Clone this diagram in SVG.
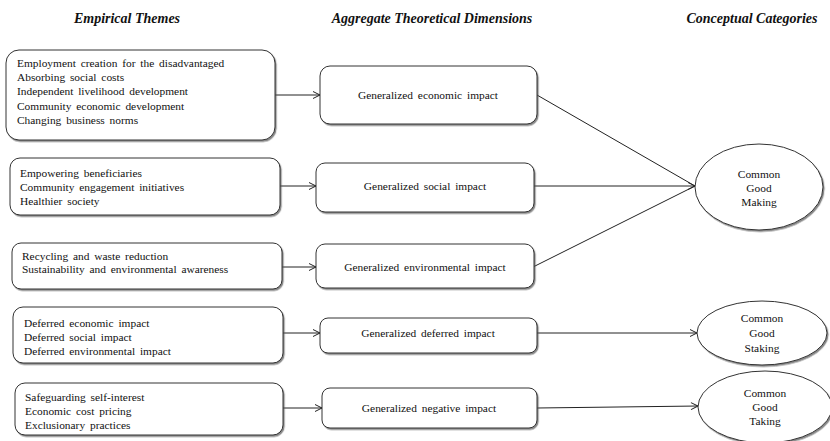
<svg xmlns="http://www.w3.org/2000/svg" width="830" height="441" viewBox="0 0 830 441">
<defs>
<marker id="arr" markerWidth="10" markerHeight="10" refX="8" refY="4" orient="auto" markerUnits="userSpaceOnUse">
<path d="M1,0.5 L8,4 L1,7.5" fill="none" stroke="#222" stroke-width="1"/>
</marker>
<filter id="sh" x="-5%" y="-5%" width="110%" height="120%">
<feDropShadow dx="1.2" dy="1.5" stdDeviation="0.6" flood-color="#555" flood-opacity="0.7"/>
</filter>
</defs>
<style>
.box{fill:#fff;stroke:#333;stroke-width:1;filter:url(#sh)}
.ell{fill:#fff;stroke:#333;stroke-width:1;filter:url(#sh)}
.t{font-size:11.4px;fill:#111;word-spacing:2px}
.c{text-anchor:middle}
.h{font-size:14px;font-weight:bold;font-style:italic;fill:#111;text-anchor:middle}
.ln{stroke:#222;stroke-width:1;fill:none}
</style>
<rect width="830" height="441" fill="#fff"/>
<g font-family="'Liberation Serif', 'Times New Roman', serif">
<g id="headers">
<text class="h" x="127" y="23">Empirical Themes</text>
<text class="h" x="432" y="23">Aggregate Theoretical Dimensions</text>
<text class="h" x="752" y="23">Conceptual Categories</text>
</g>
<g id="connectors">
<line class="ln" x1="275" y1="95" x2="320" y2="95" marker-end="url(#arr)"/>
<line class="ln" x1="280" y1="186" x2="316" y2="186" marker-end="url(#arr)"/>
<line class="ln" x1="282" y1="267" x2="316" y2="267" marker-end="url(#arr)"/>
<line class="ln" x1="283" y1="333" x2="320" y2="333" marker-end="url(#arr)"/>
<line class="ln" x1="283" y1="408" x2="322" y2="408" marker-end="url(#arr)"/>
<line class="ln" x1="537" y1="95" x2="695" y2="186"/>
<line class="ln" x1="533" y1="186" x2="695" y2="186" marker-end="url(#arr)"/>
<line class="ln" x1="533" y1="267" x2="695" y2="186"/>
<line class="ln" x1="537" y1="333" x2="697" y2="333" marker-end="url(#arr)"/>
<line class="ln" x1="537" y1="408" x2="698" y2="406" marker-end="url(#arr)"/>
</g>
<g id="theme1">
<rect class="box" x="6" y="50" width="269" height="90" rx="13"/>
<text class="t" x="17" y="67">Employment creation for the disadvantaged</text>
<text class="t" x="17" y="81">Absorbing social costs</text>
<text class="t" x="17" y="95">Independent livelihood development</text>
<text class="t" x="17" y="110">Community economic development</text>
<text class="t" x="17" y="124">Changing business norms</text>
</g>
<g id="theme2">
<rect class="box" x="10" y="158" width="270" height="57" rx="10"/>
<text class="t" x="20" y="177">Empowering beneficiaries</text>
<text class="t" x="20" y="191">Community engagement initiatives</text>
<text class="t" x="20" y="205">Healthier society</text>
</g>
<g id="theme3">
<rect class="box" x="12" y="243" width="270" height="46" rx="9"/>
<text class="t" x="22" y="260">Recycling and waste reduction</text>
<text class="t" x="22" y="273">Sustainability and environmental awareness</text>
</g>
<g id="theme4">
<rect class="box" x="13" y="307" width="270" height="56" rx="10"/>
<text class="t" x="24" y="327">Deferred economic impact</text>
<text class="t" x="24" y="341">Deferred social impact</text>
<text class="t" x="24" y="355">Deferred environmental impact</text>
</g>
<g id="theme5">
<rect class="box" x="15" y="383" width="268" height="52" rx="10"/>
<text class="t" x="25" y="401">Safeguarding self-interest</text>
<text class="t" x="25" y="415">Economic cost pricing</text>
<text class="t" x="25" y="429">Exclusionary practices</text>
</g>
<g id="dim1">
<rect class="box" x="320" y="66" width="217" height="58" rx="10"/>
<text class="t c" x="428" y="99">Generalized economic impact</text>
</g>
<g id="dim2">
<rect class="box" x="316" y="163" width="218" height="49" rx="9"/>
<text class="t c" x="425" y="190">Generalized social impact</text>
</g>
<g id="dim3">
<rect class="box" x="316" y="244" width="218" height="44" rx="9"/>
<text class="t c" x="425" y="271">Generalized environmental impact</text>
</g>
<g id="dim4">
<rect class="box" x="320" y="318" width="217" height="35" rx="8"/>
<text class="t c" x="428" y="337">Generalized deferred impact</text>
</g>
<g id="dim5">
<rect class="box" x="322" y="388" width="215" height="40" rx="8"/>
<text class="t c" x="429" y="412">Generalized negative impact</text>
</g>
<g id="cat1">
<ellipse class="ell" cx="759" cy="187" rx="64" ry="43"/>
<text class="t c" x="759" y="178">Common</text>
<text class="t c" x="759" y="192">Good</text>
<text class="t c" x="759" y="206">Making</text>
</g>
<g id="cat2">
<ellipse class="ell" cx="762" cy="333" rx="65" ry="32"/>
<text class="t c" x="762" y="322">Common</text>
<text class="t c" x="762" y="337">Good</text>
<text class="t c" x="762" y="352">Staking</text>
</g>
<g id="cat3">
<ellipse class="ell" cx="765" cy="407" rx="67" ry="36"/>
<text class="t c" x="765" y="397">Common</text>
<text class="t c" x="765" y="411">Good</text>
<text class="t c" x="765" y="425">Taking</text>
</g>
</g>
</svg>
